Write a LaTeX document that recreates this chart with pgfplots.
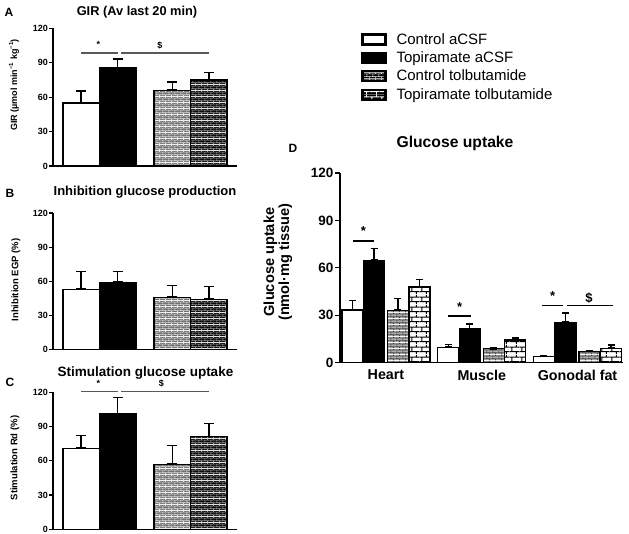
\documentclass[border=0pt]{standalone}
\usepackage{fontspec}
\setmainfont{Liberation Sans}
\usepackage{pgfplots}
\pgfplotsset{compat=1.18}
\usetikzlibrary{patterns,arrows.meta}

\definecolor{ctolbg}{gray}{0.45}
\definecolor{ctolln}{gray}{0.88}
\definecolor{ttolbg}{gray}{0.05}
\definecolor{ttolln}{gray}{0.62}
\definecolor{ctolDbg}{gray}{0.68}
\definecolor{ctolDln}{gray}{0.25}

% small bricks, colored: #2 background, #3 lines, #4 line width
\newcommand\smallbrickpattern[4]{%
\pgfdeclarepatterninherentlycolored{#1}{\pgfpointorigin}{\pgfqpoint{6pt}{6pt}}{\pgfqpoint{6pt}{6pt}}{%
  \pgfsetfillcolor{#2}%
  \pgfpathrectangle{\pgfpointorigin}{\pgfqpoint{6pt}{6pt}}\pgfusepath{fill}%
  \pgfsetstrokecolor{#3}\pgfsetlinewidth{#4}%
  \pgfpathmoveto{\pgfqpoint{0pt}{1.5pt}}\pgfpathlineto{\pgfqpoint{6pt}{1.5pt}}%
  \pgfpathmoveto{\pgfqpoint{0pt}{4.5pt}}\pgfpathlineto{\pgfqpoint{6pt}{4.5pt}}%
  \pgfpathmoveto{\pgfqpoint{1pt}{1.5pt}}\pgfpathlineto{\pgfqpoint{1pt}{4.5pt}}%
  \pgfpathmoveto{\pgfqpoint{4pt}{4.5pt}}\pgfpathlineto{\pgfqpoint{4pt}{6pt}}%
  \pgfpathmoveto{\pgfqpoint{4pt}{0pt}}\pgfpathlineto{\pgfqpoint{4pt}{1.5pt}}%
  \pgfusepath{stroke}}}
\newcommand\bigbrickpattern[4]{%
\pgfdeclarepatterninherentlycolored{#1}{\pgfpointorigin}{\pgfqpoint{10pt}{10pt}}{\pgfqpoint{10pt}{10pt}}{%
  \pgfsetfillcolor{#2}%
  \pgfpathrectangle{\pgfpointorigin}{\pgfqpoint{10pt}{10pt}}\pgfusepath{fill}%
  \pgfsetstrokecolor{#3}\pgfsetlinewidth{#4}%
  \pgfpathmoveto{\pgfqpoint{0pt}{2.5pt}}\pgfpathlineto{\pgfqpoint{10pt}{2.5pt}}%
  \pgfpathmoveto{\pgfqpoint{0pt}{7.5pt}}\pgfpathlineto{\pgfqpoint{10pt}{7.5pt}}%
  \pgfpathmoveto{\pgfqpoint{2pt}{2.5pt}}\pgfpathlineto{\pgfqpoint{2pt}{7.5pt}}%
  \pgfpathmoveto{\pgfqpoint{7pt}{7.5pt}}\pgfpathlineto{\pgfqpoint{7pt}{10pt}}%
  \pgfpathmoveto{\pgfqpoint{7pt}{0pt}}\pgfpathlineto{\pgfqpoint{7pt}{2.5pt}}%
  \pgfusepath{stroke}}}
\smallbrickpattern{ctolA}{ctolbg}{ctolln}{0.7pt}
\smallbrickpattern{ttolA}{ttolbg}{ttolln}{0.7pt}
\smallbrickpattern{ctolD}{ctolDbg}{ctolDln}{0.8pt}
\bigbrickpattern{ttolD}{white}{black}{1.1pt}
\smallbrickpattern{ctolL}{black}{white}{0.6pt}
\bigbrickpattern{ttolL}{black}{white}{0.9pt}

\pgfplotsset{
  gp/.style={scale only axis, axis lines=left,
    axis line style={-, line width=1.4pt},
    ymin=0, ymax=120, ytick={0,30,60,90,120},
    tick align=outside, major tick length=4pt,
    ytick style={line width=1.2pt, black},
    xtick=\empty, clip=false, enlargelimits=false,
    /pgf/number format/assume math mode=true,
    yticklabel style={font=\bfseries\fontsize{9}{10}\selectfont, inner sep=1pt}},
  mybar/.style={ybar, bar width=#1, bar shift=0pt, draw=black, line width=1.3pt,
    error bars/y dir=plus, error bars/y explicit,
    error bars/error mark=none,
    error bars/error bar style={line width=1.3pt, black, solid, {Bar[width=10pt,line width=1.3pt]}-{Bar[width=10pt,line width=1.3pt]}}},
  mybar/.default=1,
  dcap/.style={error bars/error bar style={line width=1.3pt, black, solid, {Bar[width=7pt,line width=1.3pt]}-{Bar[width=7pt,line width=1.3pt]}}},
}

\begin{document}
\begin{tikzpicture}
\useasboundingbox (0pt,0pt) rectangle (629pt,-534pt);

% ---------- Panel A ----------
\begin{axis}[gp, at={(53pt,-166pt)}, anchor=south west, width=184pt, height=137.5pt,
  xmin=-0.77, xmax=4.27]
\addplot[mybar, fill=white] coordinates {(0,55) +- (0,11)};
\addplot[mybar, fill=black] coordinates {(1,85.5) +- (0,8.5)};
\addplot[mybar, pattern=ctolA] coordinates {(2.5,66) +- (0,8)};
\addplot[mybar, pattern=ttolA] coordinates {(3.5,75) +- (0,7)};
\addplot[line width=1.1pt, gray!70!black] coordinates {(0,98.6) (1.01,98.6)};
\addplot[line width=1.1pt, gray!70!black] coordinates {(1.09,98.6) (3.49,98.6)};
\node[font=\bfseries\fontsize{9}{10}\selectfont] at (axis cs:0.47,106) {*};
\node[font=\bfseries\fontsize{9}{10}\selectfont] at (axis cs:2.16,105) {\$};
\end{axis}

% ---------- Panel B ----------
\begin{axis}[gp, at={(53pt,-349.5pt)}, anchor=south west, width=184pt, height=136.5pt,
  xmin=-0.77, xmax=4.27]
\addplot[mybar, fill=white] coordinates {(0,53) +- (0,16)};
\addplot[mybar, fill=black] coordinates {(1,59) +- (0,10)};
\addplot[mybar, pattern=ctolA] coordinates {(2.5,46) +- (0,11)};
\addplot[mybar, pattern=ttolA] coordinates {(3.5,44) +- (0,12)};
\end{axis}

% ---------- Panel C ----------
\begin{axis}[gp, at={(53pt,-529.3pt)}, anchor=south west, width=184pt, height=137pt,
  xmin=-0.77, xmax=4.27]
\addplot[mybar, fill=white] coordinates {(0,71) +- (0,12)};
\addplot[mybar, fill=black] coordinates {(1,101) +- (0,15)};
\addplot[mybar, pattern=ctolA] coordinates {(2.5,57) +- (0,17)};
\addplot[mybar, pattern=ttolA] coordinates {(3.5,81) +- (0,12)};
\addplot[line width=1.1pt, gray!70!black] coordinates {(0,121) (1.01,121)};
\addplot[line width=1.1pt, gray!70!black] coordinates {(1.09,121) (3.49,121)};
\node[font=\bfseries\fontsize{9}{10}\selectfont] at (axis cs:0.47,128) {*};
\node[font=\bfseries\fontsize{9}{10}\selectfont] at (axis cs:2.2,128) {\$};
\end{axis}

% ---------- Panel D ----------
\begin{axis}[gp, at={(340pt,-362.5pt)}, anchor=south west, width=283pt, height=189.5pt,
  xmin=-0.48, xmax=2.475, major tick length=5pt,
  xtick={0,1,2}, xticklabels={Heart,Muscle,Gonodal fat},
  xtick style={draw=none},
  xticklabel style={font=\bfseries\fontsize{14.3}{16}\selectfont, inner sep=2pt},
  yticklabel style={font=\bfseries\fontsize{13.5}{15}\selectfont, inner sep=1.5pt},
  legend image code/.code={\draw[#1] (0pt,-5pt) rectangle (23pt,5pt);},
  legend style={at={(0.064,1.754)}, anchor=north west, draw=none, fill=none,
    font=\fontsize{15}{16}\selectfont, row sep=4pt,
    nodes={inner sep=1pt},
    /tikz/every odd column/.style={column sep=9pt}},
  legend cell align=left]
\addplot[mybar=0.22, fill=white, dcap, forget plot]
  coordinates {(-0.35,33.2) +- (0,6.4) (0.65,9.6) +- (0,2.1) (1.65,3.7) +- (0,0.8)};
\addplot[mybar=0.22, fill=black, dcap, forget plot]
  coordinates {(-0.125,64.4) +- (0,8) (0.875,21.2) +- (0,3.6) (1.875,25.2) +- (0,6.6)};
\addplot[mybar=0.22, pattern=ctolD, dcap, forget plot]
  coordinates {(0.125,32.8) +- (0,8.2) (1.125,9.0) +- (0,0.6) (2.125,6.8) +- (0,1.2)};
\addplot[mybar=0.22, pattern=ttolD, dcap, forget plot]
  coordinates {(0.35,47.8) +- (0,5.2) (1.35,14.2) +- (0,1.8) (2.35,9.0) +- (0,2.5)};
\addplot[line width=1.2pt, black, forget plot] coordinates {(-0.345,77) (-0.125,77)};
\addplot[line width=1.2pt, black, forget plot] coordinates {(0.65,29.5) (0.89,29.5)};
\addplot[line width=1.2pt, black, forget plot] coordinates {(1.63,36.2) (1.85,36.2)};
\addplot[line width=1.2pt, black, forget plot] coordinates {(1.89,36.2) (2.37,36.2)};
\node[font=\bfseries\fontsize{13}{14}\selectfont] at (axis cs:-0.235,83) {*};
\node[font=\bfseries\fontsize{13}{14}\selectfont] at (axis cs:0.77,35) {*};
\node[font=\bfseries\fontsize{13}{14}\selectfont] at (axis cs:1.74,42) {*};
\node[font=\bfseries\fontsize{13}{14}\selectfont] at (axis cs:2.12,41) {\$};
\addlegendimage{draw=black, line width=2.2pt, fill=white}
\addlegendentry{Control aCSF}
\addlegendimage{draw=black, line width=2.2pt, fill=black}
\addlegendentry{Topiramate aCSF}
\addlegendimage{draw=black, line width=2.2pt, pattern=ctolL}
\addlegendentry{Control tolbutamide}
\addlegendimage{draw=black, line width=2.2pt, pattern=ttolL}
\addlegendentry{Topiramate tolbutamide}
\end{axis}

% ---------- Titles and labels ----------
\node[font=\bfseries\fontsize{12}{14}\selectfont] at (9pt,-12.5pt) {A};
\node[font=\bfseries\fontsize{12.8}{14}\selectfont] at (137pt,-12.5pt) {GIR (Av last 20 min)};
\node[font=\bfseries\fontsize{12}{14}\selectfont] at (10pt,-193pt) {B};
\node[font=\bfseries\fontsize{13}{14}\selectfont] at (145pt,-192pt) {Inhibition glucose production};
\node[font=\bfseries\fontsize{12}{14}\selectfont] at (10pt,-382pt) {C};
\node[font=\bfseries\fontsize{13.5}{15}\selectfont] at (145.5pt,-373pt) {Stimulation glucose uptake};
\node[font=\bfseries\fontsize{12}{14}\selectfont] at (293pt,-148pt) {D};
\node[font=\bfseries\fontsize{15.7}{17}\selectfont] at (455pt,-143pt) {Glucose uptake};

\node[rotate=90, font=\bfseries\fontsize{9}{10}\selectfont] at (14pt,-85pt) {GIR (µmol min\textsuperscript{−1} kg\textsuperscript{−1})};
\node[rotate=90, font=\bfseries\fontsize{9.5}{11}\selectfont] at (16pt,-280pt) {Inhibition EGP (\%)};
\node[rotate=90, font=\bfseries\fontsize{9.5}{11}\selectfont] at (15pt,-458pt) {Stimulation Rd (\%)};
\node[rotate=90, font=\bfseries\fontsize{14.6}{15}\selectfont, align=center] at (278pt,-262pt) {Glucose uptake\\(nmol·mg tissue)};
\end{tikzpicture}
\end{document}
